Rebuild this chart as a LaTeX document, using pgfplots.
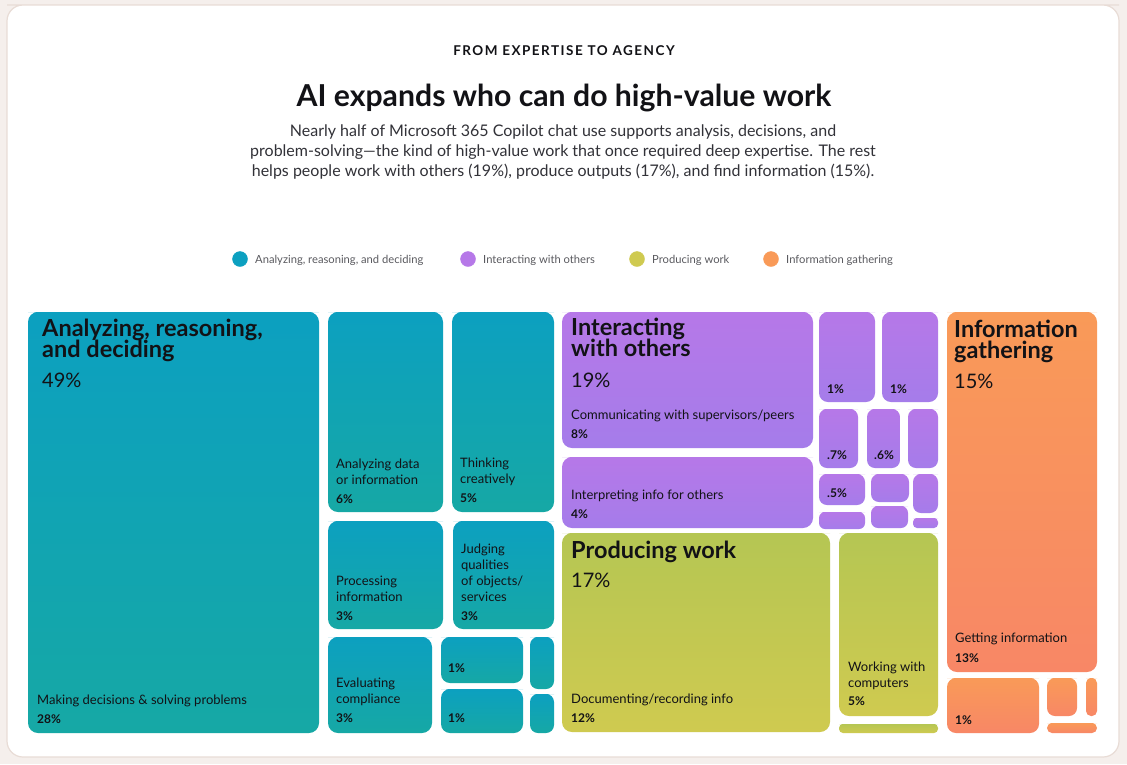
\documentclass[border=0pt]{standalone}
\usepackage{pgfplots}
\pgfplotsset{compat=1.18}
\usepackage{fontspec}
\setmainfont{Lato}
\definecolor{tealTop}{RGB}{12,160,192}
\definecolor{tealBot}{RGB}{22,168,165}
\definecolor{purpTop}{RGB}{182,120,232}
\definecolor{purpBot}{RGB}{165,124,234}
\definecolor{grnTop}{RGB}{181,198,83}
\definecolor{grnBot}{RGB}{207,202,80}
\definecolor{orgTop}{RGB}{249,154,88}
\definecolor{orgBot}{RGB}{248,135,102}
\definecolor{pageBg}{RGB}{245,239,236}
\definecolor{cardLine}{RGB}{232,220,214}
\definecolor{txt}{RGB}{18,18,22}
\definecolor{subtxt}{RGB}{50,50,56}
\definecolor{legtxt}{RGB}{90,90,95}
\newcommand{\fs}[1]{\fontsize{#1}{#1}\selectfont}
\newcommand{\tile}[6]{\addplot[draw=none, rounded corners=#5pt, top color=#6Top, bottom color=#6Bot] coordinates {(#1,#2) (#3,#2) (#3,#4) (#1,#4) (#1,#2) (#3,#2)};}
\newcommand{\lab}[4]{\node[anchor=base west, inner sep=0pt, text=txt, font=#3] at (axis cs:#1,#2) {#4};}
\newcommand{\grp}[4]{\node[anchor=base west, inner sep=0pt, text=txt] at (axis cs:#1,#2) {\fs{23.5}\bfseries\vtop{\baselineskip=21.5pt\lineskiplimit=-100pt\hbox{#3}\hbox{#4}}};}
\begin{document}
\begin{tikzpicture}
\begin{axis}[
  scale only axis, width=1127pt, height=764pt,
  xmin=0, xmax=1127, ymin=0, ymax=764, y dir=reverse,
  hide axis, clip=false, no markers]
% page and card
\addplot[draw=none, fill=pageBg] coordinates {(0,0) (1127,0) (1127,764) (0,764)} --cycle;
\addplot[draw=cardLine, line width=1.2pt, fill=white, rounded corners=16pt] coordinates {(7,5) (1119,5) (1119,757) (7,757) (7,5) (1119,5)};
% header
\node[anchor=base, inner sep=0pt, text=txt] at (axis cs:564,55) {\fs{13.5}\addfontfeature{LetterSpace=11}\bfseries FROM EXPERTISE TO AGENCY};
\node[anchor=base, inner sep=0pt, text=txt] at (axis cs:564,106) {\fs{30.2}\bfseries AI expands who can do high-value work};
\node[anchor=base, inner sep=0pt, text=subtxt] at (axis cs:563,136) {\fs{16}Nearly half of Microsoft 365 Copilot chat use supports analysis, decisions, and};
\node[anchor=base, inner sep=0pt, text=subtxt] at (axis cs:563,156) {\fs{16}problem-solving---the kind of high-value work that once required deep expertise. The rest};
\node[anchor=base, inner sep=0pt, text=subtxt] at (axis cs:563,176) {\fs{16}helps people work with others (19\%), produce outputs (17\%), and find information (15\%).};
% legend
\addplot[only marks, mark=*, mark size=7.5pt, color=tealTop] coordinates {(240,259)};
\addplot[only marks, mark=*, mark size=7.5pt, color=purpTop] coordinates {(468,259)};
\addplot[only marks, mark=*, mark size=7.5pt, color=grnBot] coordinates {(637,259)};
\addplot[only marks, mark=*, mark size=7.5pt, color=orgTop] coordinates {(771,259)};
\node[anchor=base west, inner sep=0pt, text=legtxt] at (axis cs:255,263) {\fs{11.2}Analyzing, reasoning, and deciding};
\node[anchor=base west, inner sep=0pt, text=legtxt] at (axis cs:483,263) {\fs{11.2}Interacting with others};
\node[anchor=base west, inner sep=0pt, text=legtxt] at (axis cs:652,263) {\fs{11.2}Producing work};
\node[anchor=base west, inner sep=0pt, text=legtxt] at (axis cs:786,263) {\fs{11.2}Information gathering};
% teal tiles
\tile{28}{312}{319}{733}{10}{teal}
\tile{328}{312}{443}{512}{10}{teal}
\tile{452}{312}{554}{512}{10}{teal}
\tile{328}{521}{443}{629}{10}{teal}
\tile{453}{521}{554}{629}{10}{teal}
\tile{328}{637}{432}{733}{10}{teal}
\tile{441}{637}{523}{683}{9}{teal}
\tile{441}{689}{523}{733}{9}{teal}
\tile{530}{637}{554}{689}{8}{teal}
\tile{530}{694}{554}{733}{8}{teal}
% purple tiles
\tile{562}{312}{813}{448}{10}{purp}
\tile{562}{457}{813}{528}{10}{purp}
\tile{819}{312}{875}{402}{9}{purp}
\tile{882}{312}{938}{402}{9}{purp}
\tile{819}{409}{858}{468}{8}{purp}
\tile{867}{409}{900}{468}{8}{purp}
\tile{908}{409}{938}{468}{8}{purp}
\tile{819}{474}{865}{505}{8}{purp}
\tile{871}{474}{909}{502}{8}{purp}
\tile{913}{474}{938}{513}{8}{purp}
\tile{819}{512}{865}{529}{6}{purp}
\tile{871}{506}{908}{528}{7}{purp}
\tile{913}{518}{938}{528}{4}{purp}
% green tiles
\tile{562}{533}{830}{732}{10}{grn}
\tile{839}{533}{938}{716}{10}{grn}
\tile{839}{724}{938}{733}{4}{grn}
% orange tiles
\tile{947}{312}{1097}{672}{10}{org}
\tile{947}{678}{1039}{733}{9}{org}
\tile{1047}{678}{1077}{716}{8}{org}
\tile{1086}{678}{1097}{716}{5}{org}
\tile{1047}{723}{1097}{733}{5}{org}
% teal labels
\grp{42}{336}{Analyzing, reasoning,}{and deciding}
\lab{42}{387}{\fs{20}}{49\%}
\lab{37}{704}{\fs{13}}{Making decisions \& solving problems}
\lab{37}{723}{\fs{12}\bfseries}{28\%}
\lab{336}{468}{\fs{13}}{Analyzing data}
\lab{336}{484}{\fs{13}}{or information}
\lab{336}{503}{\fs{12}\bfseries}{6\%}
\lab{460}{467}{\fs{13}}{Thinking}
\lab{460}{483}{\fs{13}}{creatively}
\lab{460}{502}{\fs{12}\bfseries}{5\%}
\lab{336}{585}{\fs{13}}{Processing}
\lab{336}{601}{\fs{13}}{information}
\lab{336}{620}{\fs{12}\bfseries}{3\%}
\lab{461}{553}{\fs{13}}{Judging}
\lab{461}{569}{\fs{13}}{qualities}
\lab{461}{585}{\fs{13}}{of objects/}
\lab{461}{601}{\fs{13}}{services}
\lab{461}{620}{\fs{12}\bfseries}{3\%}
\lab{336}{687}{\fs{13}}{Evaluating}
\lab{336}{703}{\fs{13}}{compliance}
\lab{336}{722}{\fs{12}\bfseries}{3\%}
\lab{448}{672}{\fs{12}\bfseries}{1\%}
\lab{448}{722}{\fs{12}\bfseries}{1\%}
% purple labels
\grp{571}{335}{Interacting}{with others}
\lab{571}{387}{\fs{20}}{19\%}
\lab{571}{419}{\fs{13}}{Communicating with supervisors/peers}
\lab{571}{438}{\fs{12}\bfseries}{8\%}
\lab{571}{499}{\fs{13}}{Interpreting info for others}
\lab{571}{518}{\fs{12}\bfseries}{4\%}
\lab{827}{393}{\fs{12}\bfseries}{1\%}
\lab{890}{393}{\fs{12}\bfseries}{1\%}
\lab{827}{459}{\fs{12}\bfseries}{.7\%}
\lab{874}{459}{\fs{12}\bfseries}{.6\%}
\lab{827}{497}{\fs{12}\bfseries}{.5\%}
% green labels
\lab{571}{558}{\fs{23.5}\bfseries}{Producing work}
\lab{571}{587}{\fs{20}}{17\%}
\lab{571}{703}{\fs{13}}{Documenting/recording info}
\lab{571}{722}{\fs{12}\bfseries}{12\%}
\lab{848}{671}{\fs{13}}{Working with}
\lab{848}{687}{\fs{13}}{computers}
\lab{848}{705}{\fs{12}\bfseries}{5\%}
% orange labels
\grp{954}{337}{Information}{gathering}
\lab{954}{388}{\fs{20}}{15\%}
\lab{955}{642}{\fs{13}}{Getting information}
\lab{955}{662}{\fs{12}\bfseries}{13\%}
\lab{955}{724}{\fs{12}\bfseries}{1\%}
\end{axis}
\end{tikzpicture}
\end{document}
